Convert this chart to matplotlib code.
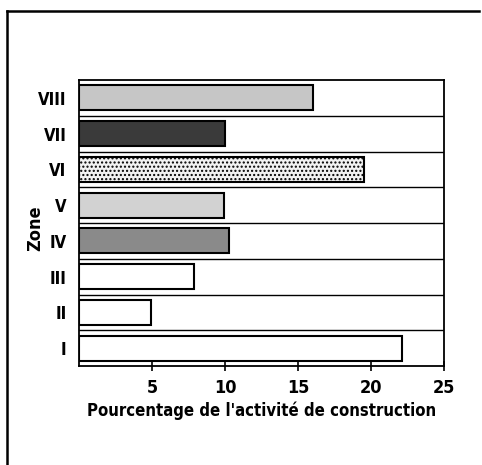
import matplotlib
matplotlib.use('Agg')
import matplotlib.pyplot as plt
from matplotlib.lines import Line2D

# Data (bottom to top)
zones = ['I', 'II', 'III', 'IV', 'V', 'VI', 'VII', 'VIII']
values = [22.1, 4.9, 7.9, 10.3, 9.9, 19.5, 10.0, 16.0]
colors = ['white', 'white', 'white', '#8a8a8a', '#d2d2d2', '#f2f2f2', '#3a3a3a', '#c6c6c6']
hatches = ['', '', '', '', '', '....', '', '']
xticks = [5, 10, 15, 20, 25]

font = dict(family='DejaVu Sans', fontstretch='condensed', fontweight='bold')

fig = plt.figure(figsize=(4.82, 4.65), dpi=100)
ax = fig.add_axes([0.1639, 0.2129, 0.7573, 0.615])

pos = list(range(len(zones)))
bars = ax.barh(pos, values, height=0.7, color=colors, edgecolor='black', linewidth=1.5)
for b, h in zip(bars, hatches):
    if h:
        b.set_hatch(h)

# row separators
for k in range(1, len(zones)):
    ax.axhline(k - 0.5, color='black', linewidth=1.0)

ax.set_xlim(0, 25)
ax.set_ylim(-0.5, len(zones) - 0.5)
ax.set_xticks(xticks)
ax.set_xticklabels([str(t) for t in xticks], fontsize=13, **font)
ax.set_yticks(pos)
ax.set_yticklabels(zones, fontsize=12, **font)
ax.tick_params(axis='y', length=0, pad=9)
ax.tick_params(axis='x', direction='inout', length=7, width=1.2, pad=6)
for s in ax.spines.values():
    s.set_linewidth(1.3)

ax.set_xlabel("Pourcentage de l'activité de construction", fontsize=12, labelpad=3, **font)
ax.set_ylabel('Zone', fontsize=13, **font)
ax.yaxis.set_label_coords(-0.095, 0.48)

# outer frame
fig.add_artist(Line2D([7 / 482, 7 / 482], [0, 1 - 11 / 465], color='black', linewidth=1.8))
fig.add_artist(Line2D([7 / 482, 479 / 482], [1 - 11 / 465, 1 - 11 / 465], color='black', linewidth=1.8))

fig.savefig('out.png', dpi=100)
